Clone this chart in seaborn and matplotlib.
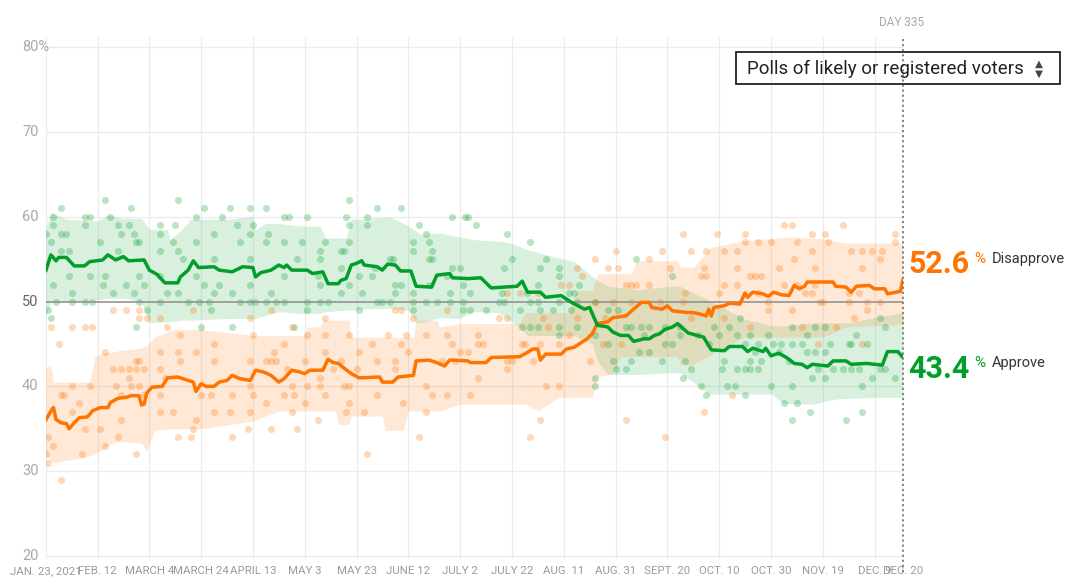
import numpy as np
import pandas as pd
import matplotlib
matplotlib.use("Agg")
import matplotlib.pyplot as plt
from matplotlib.patches import Rectangle
import seaborn as sns

# ---------------- data (days since Jan. 23, 2021) ----------------
tick_days = [0, 20, 40, 60, 80, 100, 120, 140, 160, 180, 200, 220, 240, 260, 280, 300, 320, 331]
tick_labels = ["JAN. 23, 2021", "FEB. 12", "MARCH 4", "MARCH 24", "APRIL 13", "MAY 3", "MAY 23",
               "JUNE 12", "JULY 2", "JULY 22", "AUG. 11", "AUG. 31", "SEPT. 20", "OCT. 10",
               "OCT. 30", "NOV. 19", "DEC. 9", "DEC. 20"]
y_ticks = [20, 30, 40, 50, 60, 70, 80]

approve_days = [0, 2, 4, 5, 8, 11, 15, 17, 22, 24, 27, 30, 32, 38, 40, 43, 46, 51, 52, 55, 57, 59, 65, 67,
                72, 76, 80, 81, 83, 87, 90, 92, 93, 95, 101, 103, 107, 109, 113, 114, 116, 118, 120, 122,
                123, 128, 130, 132, 135, 137, 141, 143, 149, 151, 156, 157, 163, 168, 172, 177, 182, 184,
                186, 191, 193, 199, 203, 208, 210, 213, 217, 219, 222, 225, 227, 231, 233, 235, 237, 239,
                242, 244, 248, 254, 257, 262, 264, 269, 271, 273, 277, 278, 280, 283, 286, 289, 292, 294,
                296, 302, 304, 309, 311, 317, 323, 325, 329, 331]
approve_trend = [53.6, 55.5, 54.8, 55.2, 55.2, 54.2, 54.2, 54.7, 54.9, 55.5, 54.9, 55.3, 54.8, 54.9, 53.7,
                 53.2, 52.2, 52.2, 52.9, 53.7, 54.8, 54.0, 54.1, 53.7, 53.5, 54.1, 54.0, 52.9, 53.4, 53.7,
                 54.3, 54.0, 54.3, 53.7, 53.7, 53.3, 53.5, 52.1, 52.1, 52.5, 52.7, 54.3, 54.5, 54.8, 54.3,
                 54.1, 53.7, 54.4, 54.3, 53.6, 53.6, 51.8, 51.7, 53.1, 53.3, 52.8, 52.7, 52.8, 51.6, 51.7,
                 51.8, 52.4, 51.1, 51.1, 50.5, 50.7, 49.9, 49.1, 49.3, 47.2, 47.0, 46.4, 46.0, 46.0, 45.3,
                 45.6, 45.6, 46.0, 46.2, 46.7, 47.0, 47.4, 46.3, 45.8, 44.3, 44.2, 44.7, 44.7, 44.1, 44.5,
                 44.1, 44.5, 43.6, 43.9, 43.4, 42.7, 42.6, 42.2, 42.6, 42.4, 43.0, 43.0, 42.6, 42.7, 42.5,
                 44.1, 44.1, 43.4]

disapprove_days = [0, 2, 3, 4, 6, 8, 9, 11, 13, 16, 17, 18, 21, 24, 25, 28, 31, 33, 36, 37, 38, 39, 41, 45,
                   47, 51, 55, 57, 58, 60, 62, 65, 67, 70, 72, 75, 79, 81, 84, 87, 90, 92, 95, 98, 100, 102,
                   107, 109, 111, 113, 115, 118, 121, 129, 130, 134, 136, 142, 143, 148, 151, 154, 156, 163,
                   164, 170, 172, 183, 186, 188, 190, 191, 193, 199, 201, 204, 206, 209, 211, 213, 217, 219,
                   224, 227, 230, 233, 234, 238, 240, 242, 245, 248, 250, 253, 255, 256, 257, 258, 262, 264,
                   268, 270, 271, 273, 277, 279, 281, 284, 287, 289, 291, 293, 294, 304, 305, 309, 311, 313,
                   318, 320, 324, 325, 330, 331]
disapprove_trend = [36.0, 37.1, 37.5, 36.1, 35.7, 35.6, 35.0, 35.7, 36.3, 36.4, 36.7, 37.1, 37.5, 37.5, 38.1,
                    38.6, 38.7, 38.9, 38.9, 37.8, 37.9, 39.2, 39.9, 40.0, 41.0, 41.1, 40.7, 40.5, 39.4, 40.3,
                    40.0, 40.0, 40.5, 40.7, 41.3, 40.9, 40.7, 41.9, 41.7, 41.3, 40.5, 40.9, 41.9, 41.7, 41.5,
                    41.9, 41.9, 43.2, 42.8, 42.7, 42.2, 41.5, 41.0, 41.1, 40.5, 40.5, 41.1, 41.3, 43.0, 43.1,
                    42.8, 42.4, 43.1, 43.0, 42.8, 42.8, 43.4, 43.5, 44.0, 44.4, 44.4, 43.1, 43.8, 43.8, 44.4,
                    44.6, 45.0, 45.6, 46.2, 47.4, 47.6, 48.1, 48.3, 49.1, 49.9, 49.9, 49.3, 49.1, 49.5, 48.9,
                    48.8, 48.7, 48.7, 48.5, 48.3, 49.1, 48.3, 49.3, 49.5, 49.8, 49.7, 51.0, 50.5, 51.1, 50.9,
                    50.6, 51.1, 50.8, 50.7, 51.9, 51.5, 51.8, 52.3, 52.3, 51.8, 51.7, 51.1, 51.8, 51.9, 51.5,
                    51.5, 50.9, 51.2, 52.6]

approve_band_days = [0, 2, 8, 20, 24, 30, 37, 40, 47, 48, 52, 56, 70, 80, 81, 85, 90, 98, 106, 108, 116, 118,
                     121, 133, 140, 143, 145, 152, 160, 165, 175, 178, 183, 186, 196, 204, 211, 213, 217, 229,
                     242, 245, 250, 256, 270, 280, 285, 296, 305, 310, 322, 331]
approve_upper = [58.5, 60.5, 59.7, 59.5, 60.2, 59.8, 59.8, 58.5, 58.5, 57.3, 58.3, 59.7, 59.7, 60.0, 58.5,
                 59.2, 59.2, 58.9, 58.9, 57.5, 57.5, 59.7, 59.7, 60.0, 58.9, 58.3, 57.9, 58.1, 57.6, 57.3,
                 57.1, 57.0, 56.5, 56.1, 55.3, 54.7, 53.0, 52.5, 51.8, 51.4, 51.8, 51.8, 51.0, 50.2, 47.9,
                 47.2, 47.1, 47.5, 47.5, 47.5, 48.2, 48.7]
approve_lower = [48.2, 50.0, 50.0, 50.2, 50.4, 50.4, 50.0, 47.5, 47.6, 47.6, 47.8, 47.8, 48.0, 48.0, 48.0,
                 48.4, 48.8, 48.6, 48.6, 48.8, 49.0, 49.0, 49.1, 49.2, 49.0, 47.5, 47.5, 48.1, 48.0, 48.8,
                 48.7, 48.0, 47.0, 46.0, 46.0, 46.0, 45.0, 43.0, 41.4, 41.4, 41.6, 41.6, 40.5, 39.1, 39.1,
                 39.1, 38.0, 37.9, 38.5, 38.6, 38.7, 38.7]

disapprove_band_days = [0, 2, 3, 13, 17, 19, 23, 25, 28, 37, 39, 42, 48, 50, 60, 80, 90, 100, 101, 106, 107,
                        112, 113, 117, 118, 130, 131, 138, 140, 142, 143, 151, 152, 160, 183, 185, 190, 198,
                        202, 205, 211, 213, 219, 222, 226, 228, 244, 245, 250, 257, 270, 288, 300, 309, 331]
disapprove_upper = [42.2, 42.5, 40.5, 40.5, 40.5, 43.5, 44.0, 44.0, 44.2, 44.5, 44.8, 45.8, 46.5, 46.7, 46.7,
                    46.0, 46.0, 46.0, 47.0, 47.0, 47.8, 47.8, 47.8, 47.8, 45.8, 45.8, 45.8, 45.8, 45.8, 45.8,
                    47.8, 47.8, 47.0, 47.4, 47.4, 48.7, 48.7, 48.7, 48.7, 51.3, 51.3, 53.3, 53.3, 53.3, 53.3,
                    54.8, 54.8, 54.1, 54.0, 56.4, 57.2, 57.6, 57.4, 56.9, 56.9]
disapprove_lower = [32.0, 31.2, 31.0, 31.5, 31.8, 32.0, 32.8, 33.2, 33.5, 33.3, 32.4, 34.8, 35.0, 35.0, 35.0,
                    35.9, 37.1, 37.1, 37.1, 37.1, 37.1, 37.1, 35.5, 35.5, 36.5, 36.5, 34.8, 34.8, 37.1, 37.1,
                    37.1, 37.1, 37.1, 37.9, 37.9, 37.9, 37.1, 38.7, 38.7, 38.7, 38.7, 41.1, 41.5, 43.5, 43.5,
                    43.5, 43.5, 42.5, 42.6, 43.8, 45.8, 45.8, 45.8, 47.0, 47.3]

approve_polls = [
    (6, 61), (23, 62), (33, 61), (51, 62), (61, 61), (71, 61), (79, 61), (3, 60), (15, 60), (17, 60), (25, 60),
    (3, 59), (15, 59), (28, 59), (32, 59), (44, 59), (50, 59), (58, 60), (68, 60), (74, 59), (0, 58), (6, 58),
    (8, 58), (29, 58), (34, 58), (44, 58), (65, 58), (79, 58), (2, 57), (21, 57), (35, 57), (36, 57), (49, 57),
    (58, 57), (75, 57), (6, 56), (9, 56), (28, 56), (44, 56), (51, 56), (65, 55), (79, 55), (53, 55), (9, 53),
    (17, 53), (23, 53), (36, 53), (44, 53), (58, 53), (3, 52), (22, 52), (31, 52), (38, 52), (47, 51), (61, 52),
    (67, 52), (79, 52), (10, 51), (26, 51), (34, 51), (51, 51), (65, 51), (72, 51), (4, 50), (10, 50), (15, 50),
    (18, 50), (36, 50), (44, 50), (55, 50), (59, 50), (63, 50), (75, 50), (79, 50), (1, 49), (39, 49), (64, 49),
    (2, 48), (35, 47), (60, 47), (72, 47),
    (85, 61), (117, 62), (128, 61), (137, 61), (92, 60), (94, 60), (101, 60), (116, 60), (124, 60), (157, 60),
    (162, 60), (144, 59), (124, 59), (117, 59), (80, 59), (86, 58), (147, 58), (85, 57), (92, 57), (99, 57),
    (108, 57), (117, 57), (142, 57), (148, 57), (106, 56), (114, 56), (115, 56), (142, 56), (149, 56), (97, 55),
    (106, 55), (133, 55), (134, 55), (148, 55), (149, 55), (114, 54), (127, 54), (157, 54), (160, 54), (92, 53),
    (105, 53), (121, 53), (126, 53), (155, 53), (106, 52), (117, 52), (135, 52), (137, 52), (148, 52), (161, 52),
    (87, 51), (114, 51), (122, 51), (135, 51), (142, 51), (156, 51), (81, 50), (85, 50), (89, 50), (92, 50),
    (101, 50), (106, 50), (109, 50), (128, 50), (130, 50), (133, 50), (142, 50), (147, 50), (151, 50), (156, 50),
    (161, 50), (101, 49), (121, 49), (142, 49), (161, 49), (96, 47),
    (163, 60), (166, 59), (178, 58), (187, 57), (180, 55), (193, 55), (177, 54), (191, 54), (198, 54), (198, 53),
    (190, 52), (206, 52), (164, 51), (176, 51), (186, 51), (202, 51), (204, 51), (175, 50), (177, 50), (187, 50),
    (190, 50), (198, 50), (205, 50), (212, 50), (164, 49), (170, 49), (183, 49), (191, 49), (196, 49), (203, 49),
    (217, 49), (221, 49), (184, 47), (187, 47), (190, 47), (198, 47), (205, 47), (224, 47), (226, 47), (230, 47),
    (233, 47), (239, 47), (212, 46), (231, 46), (198, 46), (217, 45), (239, 45), (242, 45), (229, 44), (233, 44),
    (219, 43), (226, 43), (238, 43), (220, 42), (224, 42), (212, 41), (212, 40), (228, 55), (242, 53),
    (245, 47), (258, 47), (264, 47), (268, 48), (288, 47), (297, 47), (301, 47), (322, 48), (324, 47), (245, 46),
    (252, 46), (260, 46), (267, 46), (272, 46), (279, 46), (294, 46), (313, 46), (256, 45), (270, 45), (275, 45),
    (281, 45), (284, 45), (288, 45), (292, 45), (303, 45), (310, 45), (311, 45), (317, 45), (274, 44), (283, 44),
    (294, 44), (297, 44), (301, 44), (262, 43), (272, 43), (276, 43), (287, 43), (247, 43), (249, 42), (261, 42),
    (267, 42), (270, 42), (272, 42), (275, 42), (298, 42), (304, 42), (308, 42), (311, 42), (314, 42), (322, 42),
    (324, 42), (246, 41), (296, 41), (301, 41), (319, 41), (328, 41), (253, 40), (263, 40), (266, 40), (280, 40),
    (288, 40), (315, 40), (255, 39), (270, 39), (285, 38), (290, 38), (295, 37), (315, 37), (288, 36), (309, 36),
]

disapprove_polls = [
    (26, 49), (31, 49), (36, 49), (44, 48), (57, 49), (36, 48), (39, 48), (2, 47), (10, 47), (15, 47), (18, 47),
    (47, 47), (5, 45), (23, 44), (52, 46), (65, 45), (58, 44), (51, 44), (44, 44), (35, 43), (36, 43), (52, 43),
    (65, 43), (79, 43), (26, 42), (29, 42), (32, 42), (35, 42), (38, 42), (32, 41), (44, 42), (46, 41), (10, 40),
    (17, 40), (27, 40), (33, 40), (36, 40), (79, 40), (6, 39), (7, 39), (29, 39), (38, 39), (44, 39), (60, 39),
    (64, 39), (72, 39), (10, 37), (13, 38), (29, 36), (15, 35), (21, 35), (44, 37), (49, 37), (71, 37), (79, 37),
    (57, 35), (78, 35), (28, 34), (51, 34), (56, 34), (72, 34), (1, 34), (3, 33), (23, 33), (0, 32), (14, 32),
    (35, 32), (1, 31), (6, 29), (58, 36), (65, 37),
    (135, 49), (137, 49), (155, 49), (142, 48), (79, 48), (87, 49), (108, 48), (95, 47), (80, 46), (101, 46),
    (108, 46), (117, 46), (132, 46), (139, 46), (147, 46), (155, 46), (92, 45), (126, 45), (137, 45), (157, 45),
    (88, 44), (108, 44), (121, 44), (140, 44), (160, 44), (85, 43), (87, 43), (89, 43), (100, 43), (114, 43),
    (128, 43), (135, 43), (153, 43), (158, 43), (93, 42), (111, 42), (120, 42), (135, 42), (106, 41), (95, 40),
    (101, 40), (106, 40), (115, 40), (117, 40), (147, 40), (80, 39), (92, 39), (96, 39), (108, 39), (128, 39),
    (149, 39), (155, 39), (85, 38), (100, 38), (117, 38), (138, 38), (95, 37), (116, 37), (123, 37), (147, 37),
    (105, 36), (87, 35), (97, 35), (144, 34), (124, 32),
    (220, 56), (238, 56), (212, 55), (233, 55), (217, 54), (221, 54), (205, 54), (241, 54), (207, 53), (224, 52),
    (226, 52), (228, 52), (233, 52), (202, 52), (199, 52), (183, 51), (190, 51), (178, 51), (212, 50), (219, 50),
    (226, 50), (237, 50), (175, 48), (178, 48), (192, 48), (205, 48), (216, 48), (194, 47), (167, 46), (202, 46),
    (167, 45), (169, 45), (184, 45), (185, 45), (191, 45), (198, 45), (215, 45), (222, 45), (163, 44), (178, 43),
    (180, 43), (188, 43), (210, 43), (178, 42), (167, 41), (193, 40), (198, 40), (164, 39), (191, 36), (187, 34),
    (224, 36), (239, 34),
    (285, 59), (288, 59), (308, 59), (246, 58), (259, 58), (270, 58), (296, 58), (301, 58), (328, 58), (270, 57),
    (275, 57), (280, 57), (290, 57), (302, 57), (328, 57), (249, 56), (255, 56), (262, 56), (267, 56), (296, 56),
    (311, 56), (315, 56), (319, 56), (323, 56), (289, 55), (322, 55), (254, 54), (267, 54), (283, 54), (297, 54),
    (315, 54), (253, 53), (255, 53), (272, 53), (274, 53), (276, 53), (267, 52), (285, 52), (290, 52), (297, 52),
    (262, 52), (247, 51), (260, 51), (275, 51), (293, 51), (296, 51), (310, 51), (314, 51), (279, 50), (299, 50),
    (300, 50), (310, 50), (317, 50), (322, 50), (246, 50), (279, 49), (288, 49), (317, 49), (249, 48), (262, 48),
    (312, 48), (272, 47), (292, 47), (305, 47), (298, 45), (315, 45), (265, 39), (254, 37),
]

# ---------------- styling ----------------
GREEN = "#009f29"
ORANGE = "#ff7400"
GRID = "#ececec"

sns.set_theme(style="white")
plt.rcParams['font.family'] = ['Roboto', 'DejaVu Sans']

W, H = 1080, 586
fig = plt.figure(figsize=(W / 100, H / 100), dpi=100)
ax_left, ax_right, ax_top, ax_bottom = 45.7, 903.0, 37.0, 559.0
ax = fig.add_axes([ax_left / W, 1 - ax_bottom / H, (ax_right - ax_left) / W, (ax_bottom - ax_top) / H])
ax.set_xlim(0, 331)
ax.set_ylim(19.65, 81.18)
for s in ax.spines.values():
    s.set_visible(False)
ax.grid(False)

# grid
for v in y_ticks:
    if v == 50:
        ax.axhline(v, color="#8c8c8c", lw=1.1, zorder=2.5)
    else:
        ax.axhline(v, color=GRID, lw=0.9, zorder=0)
for d in tick_days[:-1]:
    ax.axvline(d, color=GRID, lw=0.9, zorder=0)

# bands
ax.fill_between(approve_band_days, approve_lower, approve_upper, color=GREEN, alpha=0.15, lw=0, zorder=1)
ax.fill_between(disapprove_band_days, disapprove_lower, disapprove_upper, color=ORANGE, alpha=0.16, lw=0, zorder=1)

# polls
ap = pd.DataFrame(approve_polls, columns=["day", "pct"])
dp = pd.DataFrame(disapprove_polls, columns=["day", "pct"])
sns.scatterplot(data=ap, x="day", y="pct", color=GREEN, alpha=0.27, s=26, linewidth=0, ax=ax, zorder=2, legend=False)
sns.scatterplot(data=dp, x="day", y="pct", color=ORANGE, alpha=0.28, s=26, linewidth=0, ax=ax, zorder=2, legend=False)

# trend lines
sns.lineplot(x=disapprove_days, y=disapprove_trend, color=ORANGE, lw=2.5, ax=ax, zorder=4,
             estimator=None, sort=False)
sns.lineplot(x=approve_days, y=approve_trend, color=GREEN, lw=2.5, ax=ax, zorder=4,
             estimator=None, sort=False)

# ticks
ax.set_xticks(tick_days)
ax.set_xticklabels(tick_labels)
ax.tick_params(axis="x", length=0, pad=5, labelsize=8.2, labelcolor="#9a9a9a")
ax.set_yticks([])
ax.set_xlabel("")
ax.set_ylabel("")
ylab_x = (22 - ax_left) / (ax_right - ax_left)
for v in y_ticks:
    ax.text(ylab_x, v, f"{v}%" if v == 80 else str(v), transform=ax.get_yaxis_transform(),
            ha="left", va="center", fontsize=10.5, color="#666666" if v == 50 else "#a8a8a8")

# "today" line
end_day = tick_days[-1]
ax.plot([end_day, end_day], [-0.025, 1.0], transform=ax.get_xaxis_transform(), color="#7a7a7a",
        lw=1.3, ls=(0, (1.2, 1.6)), clip_on=False, zorder=5)
fig.text(902 / W, 1 - 22 / H, "DAY 335", ha="center", va="center", fontsize=8.5, color="#a8a8a8")

# end labels
def end_label(val, color, name, big_dy, pct_dy):
    ax.annotate(f"{val:.1f}", xy=(end_day, val), xytext=(3.6, big_dy), textcoords="offset points",
                ha="left", va="baseline", fontsize=22, fontweight="bold", color=color,
                annotation_clip=False)
    ax.annotate("%", xy=(end_day, val), xytext=(51.5, pct_dy), textcoords="offset points",
                ha="left", va="baseline", fontsize=11, color=color, annotation_clip=False)
    ax.annotate(name, xy=(end_day, val), xytext=(64, pct_dy), textcoords="offset points",
                ha="left", va="baseline", fontsize=10.5, color="#333333", annotation_clip=False)

end_label(disapprove_trend[-1], ORANGE, "Disapprove", 4.7, 11.9)
end_label(approve_trend[-1], GREEN, "Approve", -14.8, -6.8)

# selector box
fig.patches.append(Rectangle((736 / W, 1 - 84 / H), 324 / W, 32 / H, transform=fig.transFigure,
                             fill=False, edgecolor="#222222", lw=1.3))
fig.text(747 / W, 1 - 69 / H, "Polls of likely or registered voters", ha="left", va="center",
         fontsize=13.5, color="#222222")
fig.text(1039 / W, 1 - 64 / H, "\u25b2", ha="center", va="center", fontsize=7.5, color="#444444",
         family="DejaVu Sans")
fig.text(1039 / W, 1 - 74 / H, "\u25bc", ha="center", va="center", fontsize=7.5, color="#444444",
         family="DejaVu Sans")

fig.savefig("out.png", dpi=100, facecolor="white")
